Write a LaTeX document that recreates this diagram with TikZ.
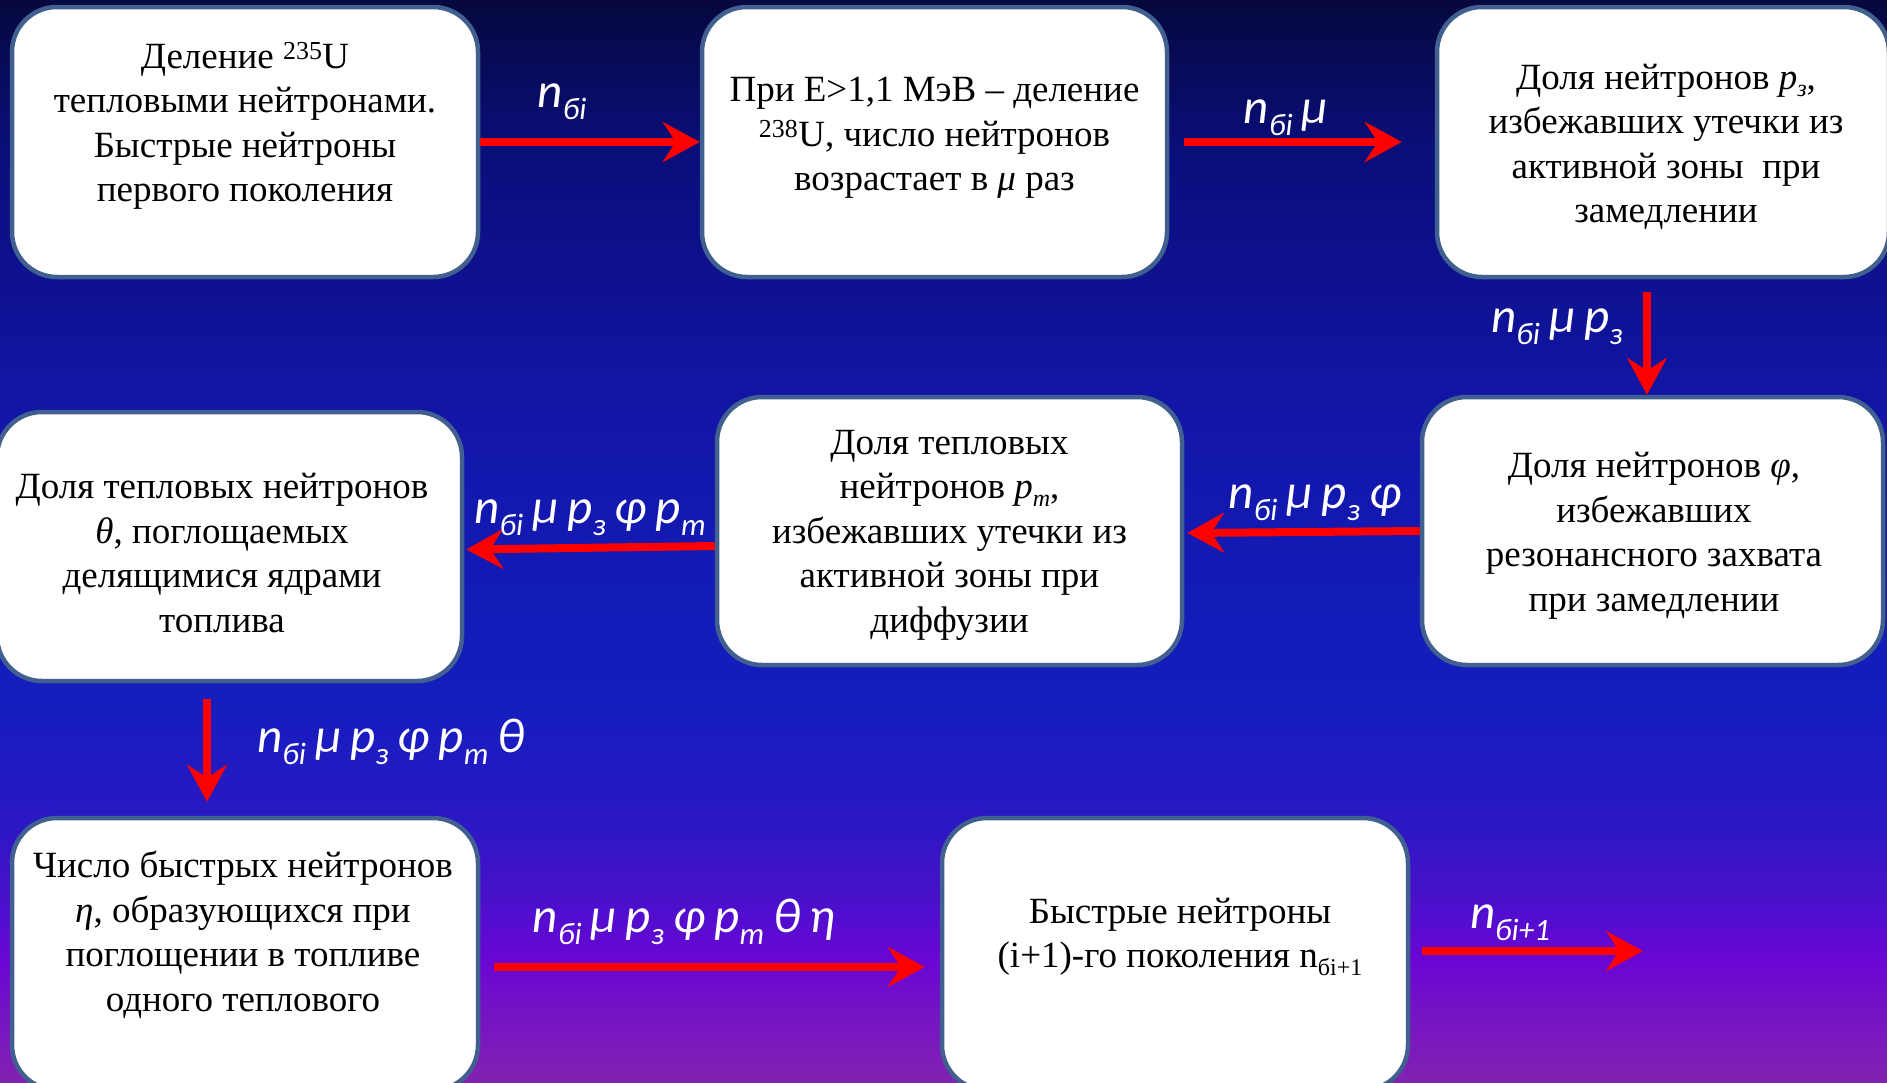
\documentclass[tikz,border=0pt]{standalone}
\usepackage{fontspec}
\setmainfont{Liberation Serif}
\newfontfamily\labfont{Carlito}
\usetikzlibrary{arrows.meta,calc}
\definecolor{bgA}{HTML}{8222B0}
\definecolor{bgB}{HTML}{7210C8}
\definecolor{bgC}{HTML}{6A06D4}
\definecolor{bgD}{HTML}{4A10CC}
\definecolor{bgE}{HTML}{2A18C4}
\definecolor{bgF}{HTML}{141EBE}
\definecolor{bgG}{HTML}{1216A8}
\definecolor{bgH}{HTML}{0A0E7A}
\definecolor{bgI}{HTML}{06083E}
\definecolor{boxborder}{HTML}{41608F}
\definecolor{arrred}{HTML}{FF0000}
\pgfdeclareverticalshading{bgshade}{100bp}{color(0bp)=(bgA); color(25bp)=(bgA); color(28.8bp)=(bgB); color(30.65bp)=(bgC); color(33.4bp)=(bgD); color(37.1bp)=(bgE); color(42.65bp)=(bgF); color(55.6bp)=(bgG); color(68.05bp)=(bgH); color(75bp)=(bgI); color(100bp)=(bgI)}
\newcommand\lsub[1]{\raisebox{-0.25em}{\fontsize{31}{31}\selectfont #1}}
\newcommand\bsub[1]{\raisebox{-0.2em}{\fontsize{24}{24}\selectfont #1}}
\newcommand\gp{\hspace{9pt}}
\begin{document}
\begin{tikzpicture}[x=1pt,y=-1pt,
  box/.style={draw=boxborder, line width=4.5pt, fill=white, rounded corners=45pt,
    minimum width=466pt, minimum height=270pt, inner sep=0pt},
  txt/.style={align=center, text=black, inner sep=0pt,
    font=\fontsize{37}{44.5}\selectfont},
  lab/.style={anchor=base, text=white, inner sep=0pt,
    font=\labfont\itshape\fontsize{49}{49}\selectfont},
  arr/.style={draw=arrred, line width=8pt,
    -{Stealth[length=37pt,width=40pt,inset=13pt]}}]
\useasboundingbox (0,0) rectangle (1887,1082);
\fill[shading=bgshade] (0,0) rectangle (1887,1082);

% boxes
\node[box] (b1) at (245,142) {};
\node[box, minimum width=465pt] (b2) at (934.5,142) {};
\node[box, minimum width=452pt] (b3) at (1663,142) {};
\node[box, minimum width=461pt, minimum height=268pt] (b4) at (1652.5,531) {};
\node[box, minimum width=465pt, minimum height=268pt] (b5) at (949.5,531) {};
\node[box, minimum width=465pt, minimum height=269pt] (b6) at (229.5,546.5) {};
\node[box, minimum height=272pt] (b7) at (245,954) {};
\node[box, minimum height=272pt] (b8) at (1175,954) {};

% texts
\node[txt] (t1) at (245,126) {Деление \textsuperscript{235}U\\тепловыми нейтронами.\\Быстрые нейтроны\\первого поколения};
\node[txt] (t2) at (934.5,138) {При E>1,1 МэВ – деление\\\textsuperscript{238}U, число нейтронов\\возрастает в \textit{μ} раз};
\node[txt] (t3) at (1666,147) {Доля нейтронов \textit{p\bsub{з}},\\избежавших утечки из\\активной зоны\ \ при\\замедлении};
\node[txt] (t4) at (1654,536) {Доля нейтронов \textit{φ},\\избежавших\\резонансного захвата\\при замедлении};
\node[txt] (t5) at (949.5,535) {Доля тепловых\\нейтронов \textit{p\bsub{m}},\\избежавших утечки из\\активной зоны при\\диффузии};
\node[txt] (t6) at (222,553) {Доля тепловых нейтронов\\\textit{θ}, поглощаемых\\делящимися ядрами\\топлива};
\node[txt] (t7) at (243,935) {Число быстрых нейтронов\\\textit{η}, образующихся при\\поглощении в топливе\\одного теплового};
\node[txt] (t8) at (1180,937) {Быстрые нейтроны\\(i+1)-го поколения n\bsub{бi+1}};

% arrows
\draw[arr] (b1.east) -- (b2.west);
\draw[arr] ($(b2.east)+(15,0)$) -- ($(b3.west)+(-33,0)$);
\coordinate (a3) at (1647,292);
\draw[arr] (a3) -- (a3 |- b4.north);
\draw[arr] (b4.west) -- ($(b5.east)+(3,2)$);
\draw[arr] ($(b5.west)+(0,15)$) -- ($(b6.east)+(2,3)$);
\draw[arr] ($(b6.south)+(-22.5,16)$) -- ($(b7.north)+(-38,-14)$);
\draw[arr] ($(b7.east)+(14,13)$) -- ($(b8.west)+(-15,13)$);
\coordinate (out) at (1643,951);
\draw[arr] ($(b8.east)+(12,-3)$) -- (out);

% labels
\node[lab] (l1) at (562,107) {n\lsub{бi}};
\node[lab] (l2) at (1286,123) {n\lsub{бi}\gp μ};
\node[lab] (l3) at (1557,332) {n\lsub{бi}\gp μ\gp p\lsub{з}};
\node[lab] (l4) at (1315,508) {n\lsub{бi}\gp μ\gp p\lsub{з}\gp φ};
\node[lab] (l5) at (590,523) {n\lsub{бi}\gp μ\gp p\lsub{з}\gp φ\gp p\lsub{m}};
\node[lab] (l6) at (391,752) {n\lsub{бi}\gp μ\gp p\lsub{з}\gp φ\gp p\lsub{m}\gp θ};
\node[lab] (l7) at (684,932) {n\lsub{бi}\gp μ\gp p\lsub{з}\gp φ\gp p\lsub{m}\gp θ\gp η};
\node[lab] (l8) at (1510,928) {n\lsub{бi+1}};
\end{tikzpicture}
\end{document}
